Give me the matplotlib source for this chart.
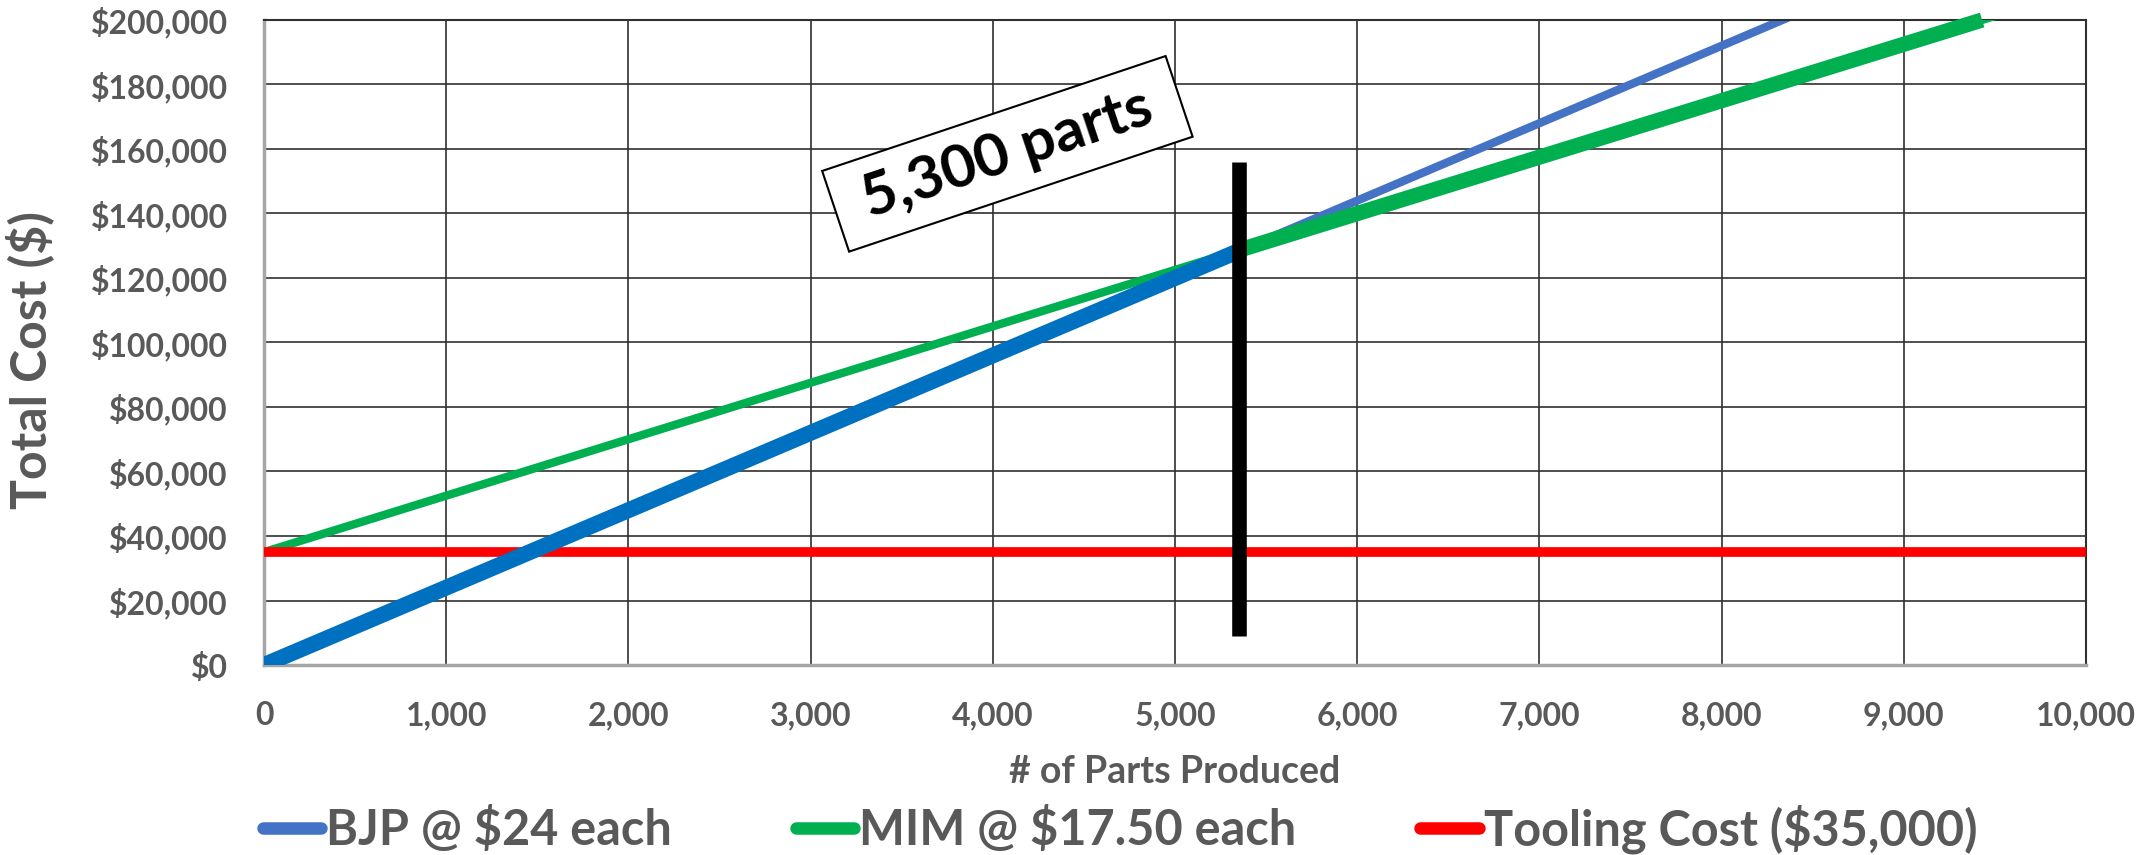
import matplotlib.pyplot as plt
from matplotlib.lines import Line2D
from matplotlib.ticker import FuncFormatter

plt.rcParams['font.family'] = ['Lato', 'DejaVu Sans']
plt.rcParams['font.weight'] = 'bold'

# line end points
parts = [0, 10000]
bjp_cost = [0, 240000]
mim_cost = [35000, 210000]
tooling_cost = [35000, 35000]

# thick parts of each line (the cheaper process)
bjp_thick_parts = [0, 5380]
bjp_thick_cost = [0, 129100]
mim_thick_parts = [5350, 9430]
mim_thick_cost = [128600, 200000]

# crossover marker
cross_parts = [5350, 5350]
cross_cost = [9000, 156000]
cross_label = '5,300 parts'

labels = ['BJP @ $24 each', 'MIM @ $17.50 each', 'Tooling Cost ($35,000)']
colors = ['#4472C4', '#00B050', '#FF0000']
gray = '#595959'

fig = plt.figure(figsize=(21.36, 8.55), dpi=100)
ax = fig.add_axes([264 / 2136, 1 - 665 / 855, (2086 - 264) / 2136, (665 - 20) / 855])

ax.plot(parts, bjp_cost, color='#4472C4', lw=6, solid_capstyle='butt', zorder=2)
ax.plot(parts, mim_cost, color='#00B050', lw=6, solid_capstyle='butt', zorder=3)
ax.plot(parts, tooling_cost, color='#FF0000', lw=7, solid_capstyle='butt', zorder=3.5)
ax.plot(bjp_thick_parts, bjp_thick_cost, color='#0070C0', lw=11.5, solid_capstyle='butt', zorder=4)
ax.plot(mim_thick_parts, mim_thick_cost, color='#00B050', lw=11, solid_capstyle='butt', zorder=5, clip_on=False)
ax.plot(cross_parts, cross_cost, color='black', lw=10.5, solid_capstyle='butt', zorder=6)

# rotated label box
ax.text(4080, 158500, ' ' + cross_label + ' ', rotation=18.5, rotation_mode='anchor', ha='center', va='center',
        fontsize=43, fontweight='bold', color='black', zorder=7,
        bbox=dict(boxstyle='square,pad=0.26', fc='white', ec='black', lw=1.5))

ax.set_xlim(0, 10000)
ax.set_ylim(0, 200000)
ax.set_xticks(range(0, 10001, 1000))
ax.set_yticks(range(0, 200001, 20000))
ax.xaxis.set_major_formatter(FuncFormatter(lambda v, p: '{:,}'.format(int(v))))
ax.yaxis.set_major_formatter(FuncFormatter(lambda v, p: '${:,}'.format(int(v))))
ax.tick_params(length=0, pad=26, labelsize=23, labelcolor=gray)
for t in ax.get_xticklabels() + ax.get_yticklabels():
    t.set_fontweight('bold')

ax.grid(True, color='#303030', lw=1.2, zorder=1)
ax.set_axisbelow(True)
for side in ['top', 'right']:
    ax.spines[side].set_color('#303030')
    ax.spines[side].set_linewidth(1.5)
for side in ['left', 'bottom']:
    ax.spines[side].set_color('#A6A6A6')
    ax.spines[side].set_linewidth(2.5)

ax.set_xlabel('# of Parts Produced', fontsize=27, fontweight='bold', color=gray, labelpad=18)
fig.text(30 / 2136, 1 - 360 / 855, 'Total Cost ($)', rotation=90, ha='center', va='center',
         fontsize=36, fontweight='bold', color=gray)

handles = [Line2D([], [], color=c, lw=9, solid_capstyle='round') for c in colors]
fig.legend(handles, labels, loc='center', bbox_to_anchor=(1120 / 2136, 1 - 829 / 855), ncol=3,
           frameon=False, handlelength=1.2, handletextpad=0.1, columnspacing=2.55,
           labelcolor=gray, prop={'weight': 'bold', 'size': 35})

fig.savefig('out.png', dpi=100)
